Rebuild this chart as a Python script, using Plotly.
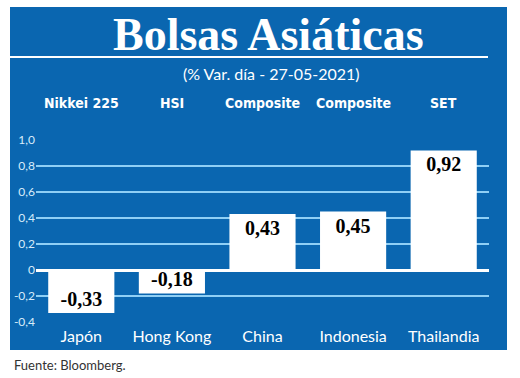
import plotly.graph_objects as go

countries = ["Japón", "Hong Kong", "China", "Indonesia", "Thailandia"]
indices = ["Nikkei 225", "HSI", "Composite", "Composite", "SET"]
values = [-0.33, -0.18, 0.43, 0.45, 0.92]
tick_vals = [-0.4, -0.2, 0, 0.2, 0.4, 0.6, 0.8, 1.0]
tick_text = ["-0,4", "-0,2", "0", "0,2", "0,4", "0,6", "0,8", "1,0"]

W, H = 520, 378
L, R, T, B = 36, 489, 140, 322
BLUE = "#0a66b0"
GRID = "#8fcff5"

def px(x):
    return (x - L) / (R - L)

def py(y):
    return (B - y) / (B - T)

fig = go.Figure()
fig.add_trace(go.Bar(
    x=countries, y=values,
    marker=dict(color="white", line=dict(width=0)),
    text=[f"{v:.2f}".replace(".", ",") for v in values],
    textposition="inside", insidetextanchor="end", constraintext="none",
    textfont=dict(family="Liberation Serif", size=20, color="black", weight="bold"),
    textangle=0,
    cliponaxis=False,
    hoverinfo="skip",
))

annotations = [
    dict(text="Bolsas Asiáticas", x=px(268), y=py(34), xref="paper", yref="paper",
         showarrow=False, font=dict(family="Liberation Serif", size=46, color="white", weight="bold"),
         xanchor="center", yanchor="middle"),
    dict(text="(% Var. día - 27-05-2021)", x=px(271), y=py(74), xref="paper", yref="paper",
         showarrow=False, font=dict(family="Lato", size=16, color="white"),
         xanchor="center", yanchor="middle"),
    dict(text="Fuente: Bloomberg.", x=px(12), y=py(365), xref="paper", yref="paper",
         showarrow=False, font=dict(family="Lato", size=13, color="#333333"),
         xanchor="left", yanchor="middle"),
]
for c, name in zip(countries, indices):
    annotations.append(dict(text=name, x=c, y=py(103), xref="x", yref="paper",
                            showarrow=False,
                            font=dict(family="DejaVu Sans Condensed, serif", size=14, color="white", weight="bold"),
                            xanchor="center", yanchor="middle"))

fig.update_layout(
    width=W, height=H,
    margin=dict(l=L, r=W - R, t=T, b=H - B),
    paper_bgcolor="white", plot_bgcolor="rgba(0,0,0,0)",
    separators=",.",
    showlegend=False,
    bargap=0.27,
    annotations=annotations,
    shapes=[
        dict(type="rect", xref="paper", yref="paper", x0=px(10), x1=px(507), y0=py(350), y1=py(7),
             fillcolor=BLUE, line=dict(width=0), layer="below"),
        dict(type="line", xref="paper", yref="paper", x0=px(10), x1=px(488), y0=py(57), y1=py(57),
             line=dict(color="white", width=2)),
    ],
    xaxis=dict(showgrid=False, showline=False, ticks="", zeroline=False, ticklabelstandoff=3,
               tickfont=dict(family="Lato", size=16, color="white"), fixedrange=True),
    yaxis=dict(range=[-0.4, 1.0], tickvals=tick_vals, ticktext=tick_text,
               showgrid=True, gridcolor=GRID, gridwidth=1.5,
               zeroline=True, zerolinecolor="white", zerolinewidth=2.5,
               showline=False, ticks="", automargin=False,
               tickfont=dict(family="Lato", size=12, color="#d8ecfa"), fixedrange=True),
)

fig.write_html("out.html", config={"displayModeBar": False},
               post_script="document.body.style.margin='0';")
